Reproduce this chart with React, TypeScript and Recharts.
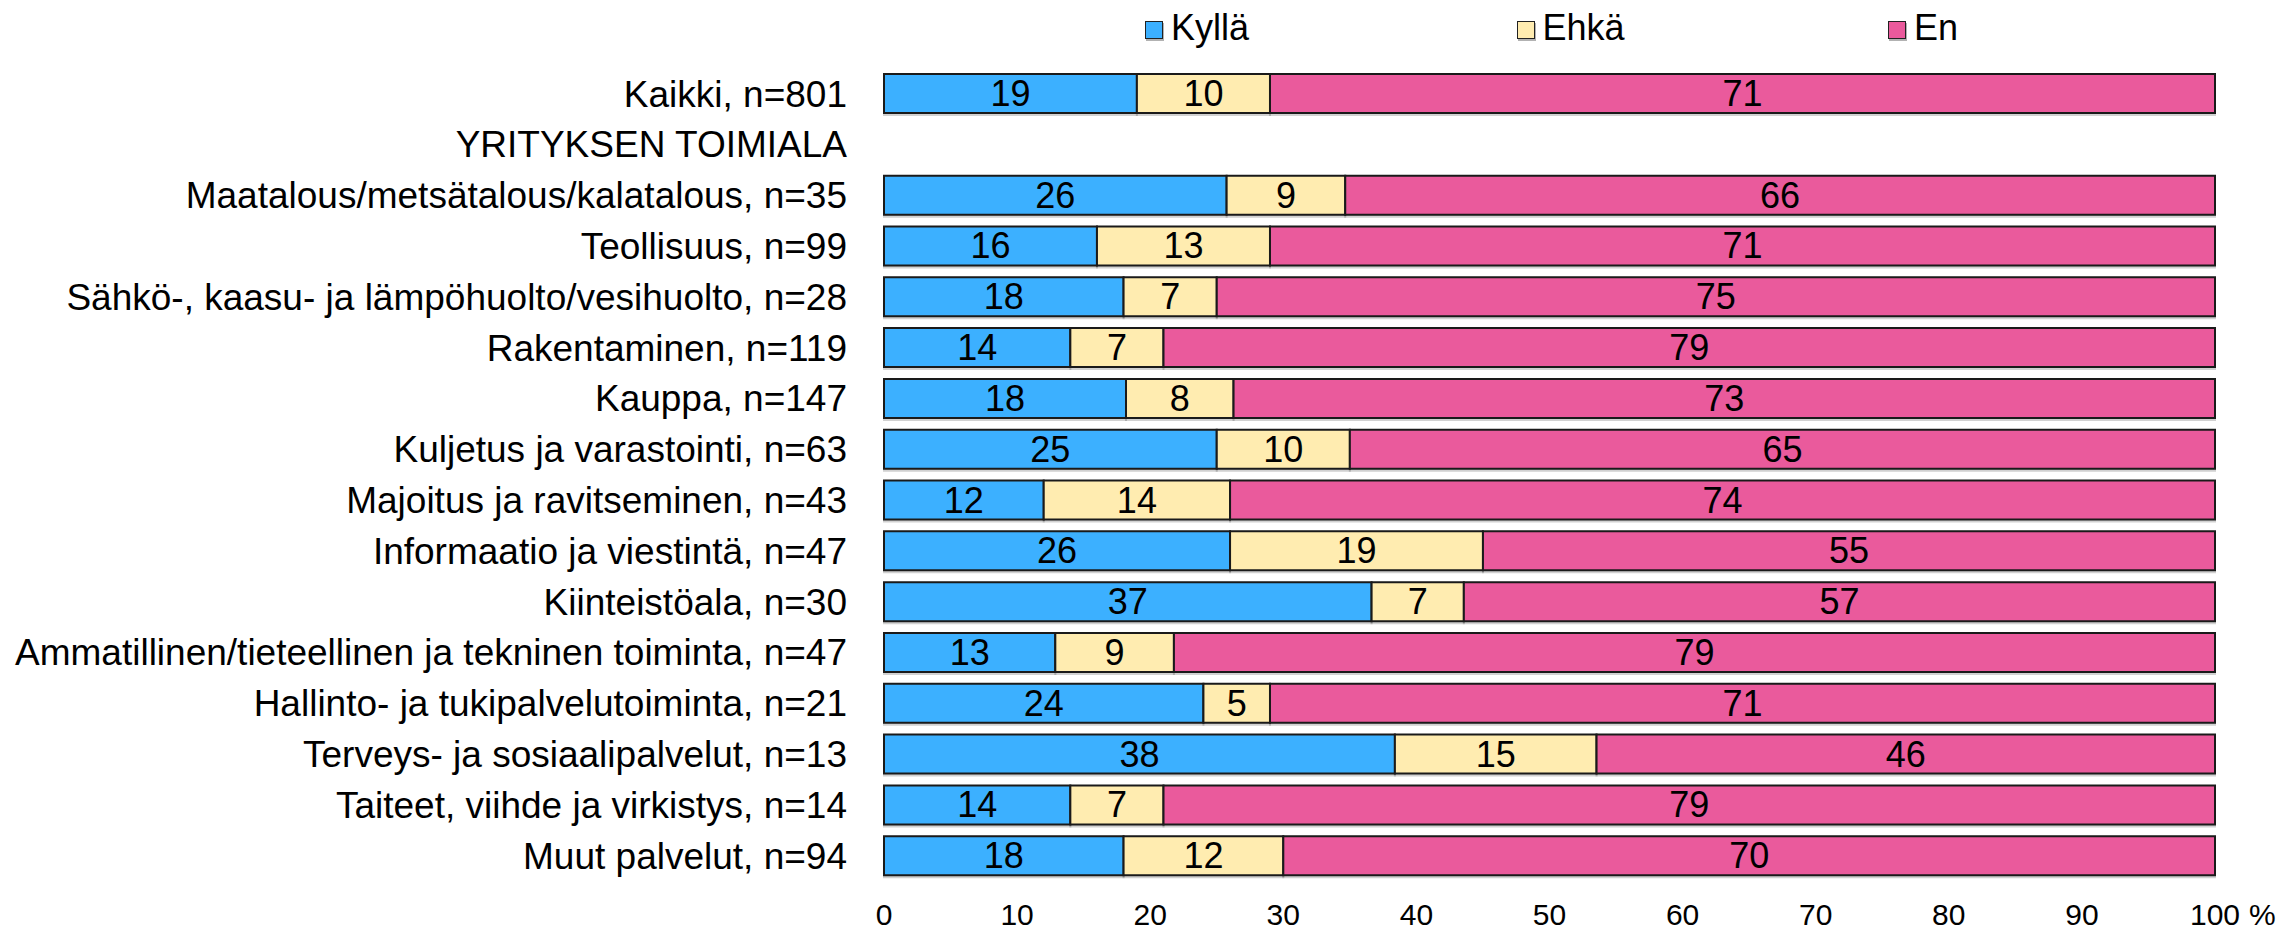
import { BarChart, Bar, XAxis, YAxis, LabelList } from 'recharts'

const categories = [
  'Kaikki, n=801',
  'YRITYKSEN TOIMIALA',
  'Maatalous/metsätalous/kalatalous, n=35',
  'Teollisuus, n=99',
  'Sähkö-, kaasu- ja lämpöhuolto/vesihuolto, n=28',
  'Rakentaminen, n=119',
  'Kauppa, n=147',
  'Kuljetus ja varastointi, n=63',
  'Majoitus ja ravitseminen, n=43',
  'Informaatio ja viestintä, n=47',
  'Kiinteistöala, n=30',
  'Ammatillinen/tieteellinen ja tekninen toiminta, n=47',
  'Hallinto- ja tukipalvelutoiminta, n=21',
  'Terveys- ja sosiaalipalvelut, n=13',
  'Taiteet, viihde ja virkistys, n=14',
  'Muut palvelut, n=94',
]

const kylla = [19, null, 26, 16, 18, 14, 18, 25, 12, 26, 37, 13, 24, 38, 14, 18]
const ehka = [10, null, 9, 13, 7, 7, 8, 10, 14, 19, 7, 9, 5, 15, 7, 12]
const en = [71, null, 66, 71, 75, 79, 73, 65, 74, 55, 57, 79, 71, 46, 79, 70]

const xTicks = [0, 10, 20, 30, 40, 50, 60, 70, 80, 90, 100]

const series = [
  { key: 'Kyllä', color: '#3cb0ff' },
  { key: 'Ehkä', color: '#ffecb0' },
  { key: 'En', color: '#ea5a9c' },
]

const FONT = '"Liberation Sans", Arial, sans-serif'

// rounded shares don't always sum to 100, so scale each row to full width
const rows = categories.map((name, i) => {
  const k = kylla[i]
  const e = ehka[i]
  const n = en[i]
  if (k == null || e == null || n == null) return { name }
  const sum = k + e + n
  return {
    name,
    'Kyllä': (k / sum) * 100,
    'Ehkä': (e / sum) * 100,
    'En': (n / sum) * 100,
    kyllaLabel: k,
    ehkaLabel: e,
    enLabel: n,
  }
})

const labelKeys: Record<string, string> = { 'Kyllä': 'kyllaLabel', 'Ehkä': 'ehkaLabel', 'En': 'enLabel' }

function SegmentLabel(props: any) {
  const { x, y, width, height, value } = props
  if (value == null || !width) return null
  return (
    <text
      x={x + width / 2}
      y={y + height / 2}
      textAnchor="middle"
      dominantBaseline="central"
      fontSize={36}
      fontFamily={FONT}
      fill="#000"
    >
      {value}
    </text>
  )
}

function XTick(props: any) {
  const { x, y, payload } = props
  return (
    <g>
      <text x={x} y={y} dy="0.71em" textAnchor="middle" fontSize={30} fontFamily={FONT} fill="#000">
        {payload.value}
      </text>
      {payload.value === 100 && (
        <text x={x + 34} y={y} dy="0.71em" textAnchor="start" fontSize={30} fontFamily={FONT} fill="#000">
          %
        </text>
      )}
    </g>
  )
}

function Legend() {
  return (
    <div style={{ position: 'absolute', left: 0, top: 0, width: 2285, height: 60 }}>
      {series.map((s, i) => (
        <div
          key={s.key}
          style={{
            position: 'absolute',
            left: 1145 + i * 371.5,
            top: 7,
            display: 'flex',
            alignItems: 'center',
            fontFamily: FONT,
            fontSize: 36,
            lineHeight: '42px',
            color: '#000',
          }}
        >
          <span
            style={{
              display: 'inline-block',
              boxSizing: 'border-box',
              width: 18,
              height: 18,
              background: s.color,
              border: '1.5px solid #222',
              boxShadow: '1px 2px 0 rgba(0,0,0,0.3)',
              marginRight: 8,
              marginTop: 4,
            }}
          />
          {s.key}
        </div>
      ))}
    </div>
  )
}

export default function App() {
  return (
    <div style={{ position: 'absolute', left: 0, top: 0, width: 2285, height: 932, background: '#fff' }}>
      <Legend />
      <BarChart
        width={2285}
        height={932}
        data={rows}
        layout="vertical"
        margin={{ top: 68, right: 70, bottom: 0, left: 0 }}
        barSize={39}
      >
        <XAxis
          type="number"
          domain={[0, 100]}
          ticks={xTicks}
          interval={0}
          height={51}
          axisLine={false}
          tickLine={false}
          tickSize={0}
          tickMargin={23}
          tick={<XTick />}
        />
        <YAxis
          type="category"
          dataKey="name"
          width={884}
          axisLine={false}
          tickLine={false}
          tickSize={0}
          tickMargin={37}
          interval={0}
          tick={{ fill: '#000', fontSize: 37, fontFamily: FONT }}
        />
        {series.map((s) => (
          <Bar
            key={s.key}
            dataKey={s.key}
            stackId="a"
            fill={s.color}
            stroke="#1a1a1a"
            strokeWidth={2}
            isAnimationActive={false}
            style={{ filter: 'drop-shadow(0px 2px 0px rgba(0,0,0,0.18))' }}
          >
            <LabelList dataKey={labelKeys[s.key]} content={<SegmentLabel />} />
          </Bar>
        ))}
      </BarChart>
    </div>
  )
}
